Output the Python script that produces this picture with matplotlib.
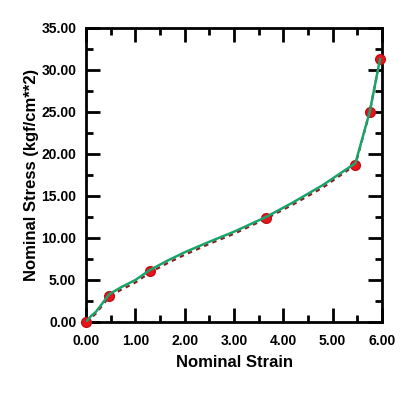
import numpy as np
import matplotlib.pyplot as plt
from matplotlib.ticker import MultipleLocator, FormatStrFormatter

plt.rcParams['font.family'] = ['Liberation Sans', 'DejaVu Sans']
plt.rcParams['font.weight'] = 'bold'

# measured points
strain = [0.0, 0.47, 1.30, 3.65, 5.46, 5.75, 5.96]
stress = [0.0, 3.05, 6.1, 12.4, 18.7, 25.0, 31.3]

# dashed curve under the fit
dash_strain = [0.0, 0.1, 0.2, 0.47, 0.7, 1.0, 1.3, 1.65, 2.0, 2.5, 3.0, 3.65, 4.2, 4.8, 5.46, 5.75, 5.96]
dash_stress = [0.0, 0.5, 1.0, 3.0, 3.8, 4.7, 5.9, 7.0, 8.0, 9.3, 10.5, 12.3, 14.0, 16.0, 18.7, 25.0, 31.3]

# fitted curve
fit_strain = [0.0, 0.1, 0.2, 0.47, 0.7, 1.0, 1.3, 1.65, 2.0, 2.5, 3.0, 3.65, 4.2, 4.8, 5.46, 5.75, 5.96]
fit_stress = [0.0, 0.7, 1.2, 3.3, 4.1, 5.0, 6.2, 7.3, 8.3, 9.55, 10.75, 12.5, 14.25, 16.3, 18.9, 25.0, 31.3]

fig = plt.figure(figsize=(4.04, 3.96), dpi=100)
ax = fig.add_axes([0.2129, 0.1869, 0.7327, 0.7424])

ax.plot(dash_strain, dash_stress, color='#8b2020', lw=1.6, ls=(0, (2, 2)), zorder=2)
ax.plot(strain, stress, 'o', color='#e8141c', ms=7, mec='#c01018', ls='none', zorder=3, clip_on=False)
ax.plot(fit_strain, fit_stress, color='#1ba36c', lw=1.8, zorder=4)

ax.set_xlim(0, 6)
ax.set_ylim(0, 35)
ax.xaxis.set_major_locator(MultipleLocator(1))
ax.xaxis.set_minor_locator(MultipleLocator(0.5))
ax.yaxis.set_major_locator(MultipleLocator(5))
ax.yaxis.set_minor_locator(MultipleLocator(2.5))
ax.xaxis.set_major_formatter(FormatStrFormatter('%.2f'))
ax.yaxis.set_major_formatter(FormatStrFormatter('%.2f'))

ax.tick_params(which='both', direction='in', top=True, right=True, width=2, labelsize=10)
ax.tick_params(which='major', length=10)
ax.tick_params(axis='x', which='major', pad=9)
ax.tick_params(axis='y', which='major', pad=7)
ax.tick_params(which='minor', length=5)
for s in ax.spines.values():
    s.set_linewidth(2)
for lab in ax.get_xticklabels() + ax.get_yticklabels():
    lab.set_fontweight('bold')

ax.set_xlabel('Nominal Strain', fontsize=12, fontweight='bold', labelpad=5)
ax.set_ylabel('Nominal Stress (kgf/cm**2)', fontsize=12, fontweight='bold', labelpad=2)

fig.savefig('out.png', dpi=100)
